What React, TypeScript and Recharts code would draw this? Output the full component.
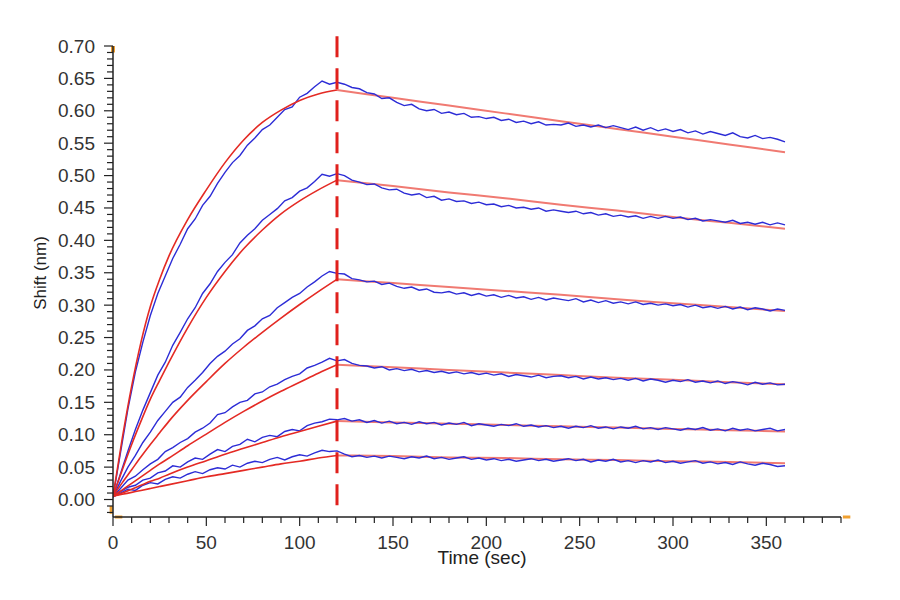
import { LineChart, Line, XAxis, YAxis, ReferenceLine } from 'recharts'

// sampled sensorgram (4 s step)
const DATA_TIME = Array.from({ length: 91 }, (_, i) => i * 4)

const BLUE_1 = [
  0.004, 0.072, 0.140, 0.197, 0.243, 0.284, 0.318, 0.345, 0.372, 0.394, 0.418, 0.433, 0.454, 0.468, 0.488, 0.505,
  0.520, 0.531, 0.547, 0.558, 0.571, 0.578, 0.590, 0.602, 0.606, 0.621, 0.627, 0.637, 0.646, 0.641, 0.644,
  0.641, 0.636, 0.634, 0.628, 0.626, 0.619, 0.620, 0.613, 0.608, 0.610, 0.603, 0.600, 0.602, 0.596, 0.598,
  0.594, 0.596, 0.590, 0.591, 0.588, 0.590, 0.585, 0.587, 0.582, 0.584, 0.580, 0.583, 0.578, 0.579, 0.578,
  0.581, 0.576, 0.578, 0.575, 0.578, 0.574, 0.577, 0.574, 0.571, 0.575, 0.570, 0.574, 0.569, 0.572, 0.568,
  0.571, 0.566, 0.569, 0.564, 0.568, 0.565, 0.562, 0.566, 0.560, 0.558, 0.562, 0.557, 0.559, 0.556, 0.552,
]
const BLUE_2 = [
  0.004, 0.040, 0.075, 0.108, 0.138, 0.165, 0.192, 0.212, 0.238, 0.258, 0.279, 0.296, 0.318, 0.333, 0.352, 0.366,
  0.378, 0.396, 0.408, 0.418, 0.431, 0.440, 0.449, 0.461, 0.466, 0.476, 0.481, 0.491, 0.502, 0.499, 0.503,
  0.500, 0.493, 0.490, 0.486, 0.487, 0.481, 0.478, 0.479, 0.473, 0.470, 0.472, 0.466, 0.468, 0.462, 0.464,
  0.460, 0.461, 0.457, 0.459, 0.455, 0.456, 0.452, 0.454, 0.450, 0.451, 0.448, 0.450, 0.445, 0.447, 0.445,
  0.443, 0.445, 0.441, 0.443, 0.439, 0.441, 0.437, 0.439, 0.436, 0.438, 0.434, 0.437, 0.434, 0.437, 0.434,
  0.436, 0.432, 0.434, 0.430, 0.432, 0.430, 0.428, 0.431, 0.426, 0.428, 0.425, 0.428, 0.424, 0.427, 0.424,
]
const BLUE_3 = [
  0.004, 0.028, 0.050, 0.068, 0.088, 0.104, 0.122, 0.136, 0.150, 0.158, 0.173, 0.184, 0.196, 0.210, 0.221, 0.229,
  0.240, 0.248, 0.261, 0.268, 0.279, 0.284, 0.296, 0.304, 0.312, 0.318, 0.328, 0.336, 0.345, 0.352, 0.349,
  0.348, 0.341, 0.339, 0.336, 0.337, 0.332, 0.334, 0.329, 0.326, 0.328, 0.323, 0.325, 0.320, 0.319, 0.321,
  0.317, 0.319, 0.315, 0.318, 0.314, 0.316, 0.312, 0.315, 0.311, 0.313, 0.309, 0.312, 0.308, 0.311, 0.309,
  0.307, 0.310, 0.305, 0.308, 0.304, 0.307, 0.303, 0.305, 0.302, 0.305, 0.301, 0.303, 0.300, 0.302, 0.299,
  0.301, 0.297, 0.300, 0.296, 0.298, 0.295, 0.298, 0.294, 0.297, 0.293, 0.296, 0.294, 0.291, 0.294, 0.292,
]
const BLUE_4 = [
  0.004, 0.017, 0.030, 0.036, 0.046, 0.055, 0.062, 0.074, 0.080, 0.088, 0.094, 0.104, 0.110, 0.118, 0.131, 0.134,
  0.143, 0.150, 0.153, 0.163, 0.166, 0.174, 0.178, 0.185, 0.190, 0.194, 0.203, 0.207, 0.212, 0.218, 0.214,
  0.216, 0.210, 0.207, 0.206, 0.203, 0.205, 0.200, 0.202, 0.199, 0.201, 0.197, 0.199, 0.196, 0.198, 0.195,
  0.197, 0.194, 0.196, 0.193, 0.195, 0.192, 0.194, 0.190, 0.193, 0.191, 0.189, 0.192, 0.188, 0.190, 0.191,
  0.188, 0.190, 0.186, 0.189, 0.186, 0.188, 0.185, 0.187, 0.184, 0.187, 0.183, 0.186, 0.184, 0.181, 0.184,
  0.182, 0.185, 0.181, 0.183, 0.180, 0.183, 0.179, 0.182, 0.180, 0.177, 0.181, 0.178, 0.180, 0.177, 0.178,
]
const BLUE_5 = [
  0.004, 0.012, 0.019, 0.022, 0.030, 0.033, 0.041, 0.044, 0.052, 0.050, 0.058, 0.064, 0.062, 0.070, 0.077, 0.074,
  0.082, 0.085, 0.093, 0.089, 0.096, 0.099, 0.097, 0.105, 0.108, 0.106, 0.114, 0.118, 0.120, 0.124, 0.123,
  0.125, 0.121, 0.123, 0.119, 0.122, 0.118, 0.121, 0.117, 0.119, 0.116, 0.120, 0.117, 0.119, 0.115, 0.118,
  0.116, 0.119, 0.114, 0.117, 0.115, 0.113, 0.116, 0.114, 0.117, 0.113, 0.115, 0.112, 0.114, 0.111, 0.113,
  0.110, 0.113, 0.111, 0.114, 0.110, 0.112, 0.109, 0.112, 0.110, 0.113, 0.109, 0.111, 0.108, 0.111, 0.109,
  0.107, 0.110, 0.108, 0.111, 0.107, 0.109, 0.106, 0.110, 0.107, 0.109, 0.106, 0.108, 0.110, 0.106, 0.108,
]
const BLUE_6 = [
  0.004, 0.010, 0.016, 0.014, 0.022, 0.026, 0.024, 0.031, 0.035, 0.033, 0.039, 0.043, 0.040, 0.046, 0.049, 0.047,
  0.053, 0.050, 0.056, 0.059, 0.057, 0.062, 0.065, 0.061, 0.066, 0.069, 0.067, 0.072, 0.076, 0.074, 0.075,
  0.070, 0.066, 0.068, 0.065, 0.067, 0.064, 0.067, 0.065, 0.063, 0.066, 0.064, 0.067, 0.063, 0.065, 0.062,
  0.064, 0.066, 0.062, 0.064, 0.061, 0.063, 0.060, 0.062, 0.059, 0.061, 0.063, 0.060, 0.062, 0.059, 0.061,
  0.063, 0.060, 0.062, 0.058, 0.061, 0.059, 0.062, 0.058, 0.060, 0.057, 0.060, 0.058, 0.061, 0.057, 0.059,
  0.056, 0.058, 0.060, 0.056, 0.058, 0.055, 0.057, 0.054, 0.058, 0.055, 0.053, 0.056, 0.054, 0.051, 0.052,
]

// 1:1 fit curves, association and dissociation phases
const FIT_ASSOC_TIME = [0, 5, 10, 15, 20, 25, 30, 40, 50, 60, 70, 80, 90, 100, 110, 120]
const FIT_ASSOC = [
  [0.005, 0.095, 0.175, 0.243, 0.298, 0.340, 0.376, 0.432, 0.478, 0.520, 0.555, 0.582, 0.601, 0.616, 0.626, 0.632],
  [0.005, 0.046, 0.085, 0.121, 0.155, 0.184, 0.212, 0.265, 0.312, 0.352, 0.387, 0.416, 0.441, 0.461, 0.478, 0.493],
  [0.005, 0.026, 0.046, 0.066, 0.085, 0.103, 0.121, 0.153, 0.182, 0.210, 0.235, 0.258, 0.280, 0.301, 0.321, 0.340],
  [0.005, 0.015, 0.025, 0.035, 0.045, 0.055, 0.064, 0.083, 0.101, 0.119, 0.136, 0.152, 0.167, 0.181, 0.195, 0.208],
  [0.005, 0.010, 0.016, 0.022, 0.028, 0.033, 0.039, 0.050, 0.060, 0.070, 0.079, 0.088, 0.097, 0.105, 0.113, 0.121],
  [0.005, 0.008, 0.011, 0.014, 0.017, 0.020, 0.023, 0.029, 0.035, 0.040, 0.045, 0.050, 0.055, 0.059, 0.064, 0.068],
]
const FIT_DISS_TIME = [120, 150, 180, 210, 240, 270, 300, 330, 360]
const FIT_DISS = [
  [0.632, 0.620, 0.608, 0.596, 0.584, 0.572, 0.560, 0.548, 0.536],
  [0.493, 0.484, 0.474, 0.465, 0.455, 0.446, 0.436, 0.427, 0.418],
  [0.340, 0.334, 0.328, 0.322, 0.316, 0.309, 0.303, 0.297, 0.291],
  [0.208, 0.204, 0.200, 0.196, 0.192, 0.188, 0.185, 0.181, 0.178],
  [0.121, 0.119, 0.117, 0.115, 0.113, 0.111, 0.109, 0.107, 0.105],
  [0.068, 0.067, 0.065, 0.064, 0.062, 0.061, 0.059, 0.058, 0.056],
]

const X_LABELS = [0, 50, 100, 150, 200, 250, 300, 350]
const Y_LABELS = [0, 0.05, 0.1, 0.15, 0.2, 0.25, 0.3, 0.35, 0.4, 0.45, 0.5, 0.55, 0.6, 0.65, 0.7]
const X_TICKS = Array.from({ length: 40 }, (_, i) => i * 10)
const Y_TICKS = Array.from({ length: 73 }, (_, i) => (i - 2) / 100)

const BLUE = [BLUE_1, BLUE_2, BLUE_3, BLUE_4, BLUE_5, BLUE_6]
const blueSeries = BLUE.map((vals) => DATA_TIME.map((t, i) => ({ t, v: vals[i] })))
const assocSeries = FIT_ASSOC.map((vals) => FIT_ASSOC_TIME.map((t, i) => ({ t, v: vals[i] })))
const dissSeries = FIT_DISS.map((vals) => FIT_DISS_TIME.map((t, i) => ({ t, v: vals[i] })))

const FONT = '"Liberation Sans", Arial, sans-serif'
const AXIS = '#222'
const ORANGE = '#f0a030'

function XTick(props: any) {
  const { x, y, payload } = props
  const major = X_LABELS.includes(payload.value)
  return (
    <g>
      <line x1={x} x2={x} y1={y} y2={y + (major ? 9 : 6)} stroke={AXIS} strokeWidth={1.2} />
      {major && (
        <text x={x} y={y + 32} textAnchor="middle" fontSize={19} fill="#333" fontFamily={FONT}>
          {payload.value}
        </text>
      )}
    </g>
  )
}

function YTick(props: any) {
  const { x, y, payload } = props
  const major = Y_LABELS.some((l) => Math.abs(l - payload.value) < 1e-6)
  return (
    <g>
      <line x1={x - (major ? 9 : 6)} x2={x} y1={y} y2={y} stroke={AXIS} strokeWidth={1.2} />
      {major && (
        <text x={x - 18} y={y + 6.5} textAnchor="end" fontSize={19} fill="#333" fontFamily={FONT}>
          {payload.value.toFixed(2)}
        </text>
      )}
    </g>
  )
}

export default function App() {
  return (
    <div style={{ position: 'absolute', left: 0, top: 0, width: 900, height: 600, background: '#fff' }}>
      <LineChart width={900} height={600} margin={{ top: 46, right: 59, left: 0, bottom: 0 }}>
        <XAxis
          dataKey="t"
          type="number"
          domain={[0, 390]}
          ticks={X_TICKS}
          interval={0}
          tickSize={0}
          tickMargin={0}
          tickLine={false}
          tick={<XTick />}
          height={83}
          axisLine={{ stroke: AXIS, strokeWidth: 1.5 }}
          allowDataOverflow
          label={{
            content: () => (
              <text x={482} y={564} textAnchor="middle" fontSize={19} fill="#222" fontFamily={FONT}>
                Time (sec)
              </text>
            ),
          }}
        />
        <YAxis
          type="number"
          domain={[-0.027, 0.7]}
          ticks={Y_TICKS}
          interval={0}
          tickSize={0}
          tickMargin={0}
          tickLine={false}
          tick={<YTick />}
          width={113}
          axisLine={{ stroke: AXIS, strokeWidth: 1.5 }}
          allowDataOverflow
          label={{
            content: () => (
              <text
                x={46}
                y={273}
                textAnchor="middle"
                fontSize={17}
                fill="#222"
                fontFamily={FONT}
                transform="rotate(-90 46 273)"
              >
                Shift (nm)
              </text>
            ),
          }}
        />

        {dissSeries.map((d, i) => (
          <Line key={'d' + i} data={d} dataKey="v" type="monotone" stroke="#f07a72" strokeWidth={2}
            dot={false} activeDot={false} isAnimationActive={false} />
        ))}
        {blueSeries.map((d, i) => (
          <Line key={'b' + i} data={d} dataKey="v" type="linear" stroke="#2c2cd6" strokeWidth={1.4}
            dot={false} activeDot={false} isAnimationActive={false} />
        ))}
        {assocSeries.map((d, i) => (
          <Line key={'a' + i} data={d} dataKey="v" type="monotone" stroke="#e42a24" strokeWidth={1.6}
            dot={false} activeDot={false} isAnimationActive={false} />
        ))}

        <ReferenceLine
          segment={[{ x: 120, y: 0.715 }, { x: 120, y: -0.009 }]}
          stroke="#e0201c"
          strokeWidth={3}
          strokeDasharray="21 11"
          ifOverflow="visible"
        />
        <ReferenceLine segment={[{ x: 0, y: 0.7 }, { x: 0, y: 0.69 }]} stroke={ORANGE} strokeWidth={4} ifOverflow="visible" />
        <ReferenceLine segment={[{ x: -1, y: -0.01 }, { x: -1, y: -0.022 }]} stroke={ORANGE} strokeWidth={3} ifOverflow="visible" />
        <ReferenceLine segment={[{ x: 1, y: -0.027 }, { x: 5, y: -0.027 }]} stroke={ORANGE} strokeWidth={3} ifOverflow="visible" />
        <ReferenceLine segment={[{ x: 391, y: -0.027 }, { x: 395, y: -0.027 }]} stroke={ORANGE} strokeWidth={3} ifOverflow="visible" />
      </LineChart>
    </div>
  )
}
